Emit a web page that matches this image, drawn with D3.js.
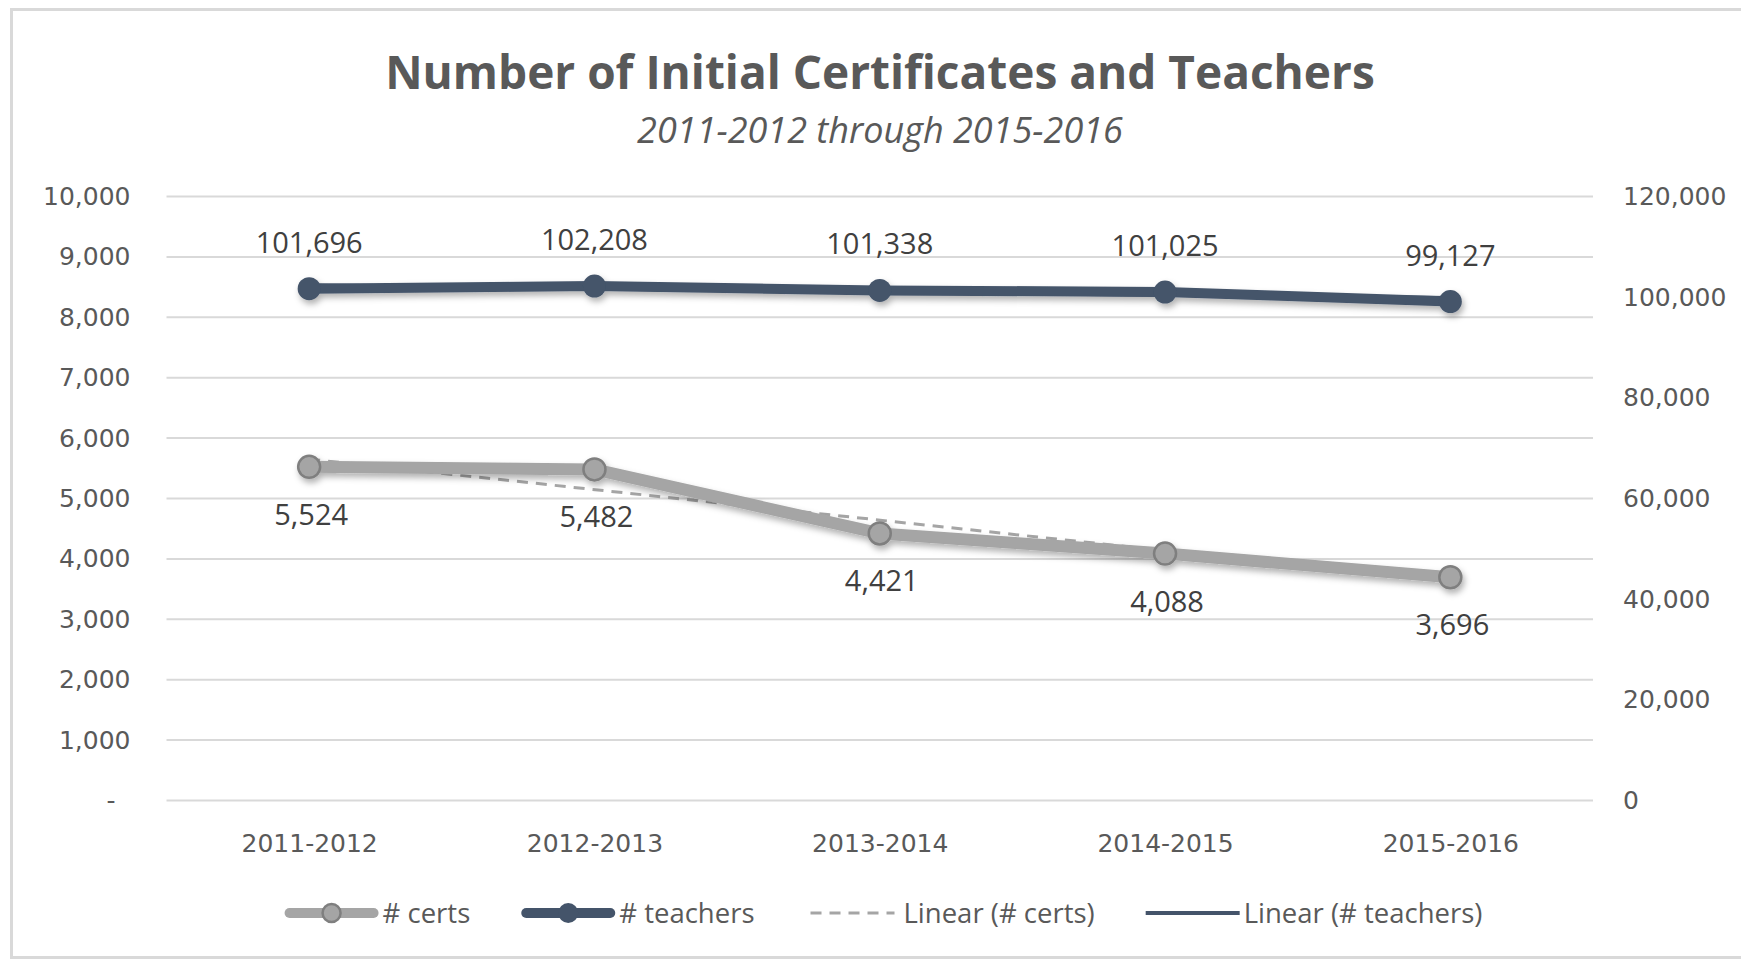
<!DOCTYPE html>
<html>
<head>
<meta charset="utf-8">
<script src="https://cdn.jsdelivr.net/npm/d3@7"></script>
<style>
  body { margin: 0; background: #fff; }
  svg { display: block; }
</style>
</head>
<body>
<div class="g-chart"></div>
<script>
// data
var years = ["2011-2012", "2012-2013", "2013-2014", "2014-2015", "2015-2016"];
var certs = [5524, 5482, 4421, 4088, 3696];
var teachers = [101696, 102208, 101338, 101025, 99127];
// trendline ends (first and last year)
var certsTrend = [5652, 3632];
var teachersTrend = [102343, 99815];
var leftTicks = [0, 1000, 2000, 3000, 4000, 5000, 6000, 7000, 8000, 9000, 10000];
var rightTicks = [0, 20000, 40000, 60000, 80000, 100000, 120000];
var legendNames = ["# certs", "# teachers", "Linear (# certs)", "Linear (# teachers)"];

var width = 1741, height = 959;
var margin = {top: 196.5, right: 148, bottom: 158.5, left: 166.5};
var grey = "#a5a5a5", navy = "#44546a", textCol = "#595959";

var svg = d3.select(".g-chart").append("svg")
    .attr("width", width)
    .attr("height", height);

var defs = svg.append("defs");
var f = defs.append("filter").attr("id", "shadow")
    .attr("x", "-10%").attr("y", "-50%").attr("width", "120%").attr("height", "200%");
f.append("feDropShadow")
    .attr("dx", 2).attr("dy", 4).attr("stdDeviation", 3)
    .attr("flood-color", "#000").attr("flood-opacity", 0.3);

// outer chart border
svg.append("rect")
    .attr("x", 11.5).attr("y", 9.5)
    .attr("width", width).attr("height", 948)
    .attr("fill", "#fff")
    .attr("stroke", "#d9d9d9").attr("stroke-width", 3);

svg.append("text")
    .attr("x", 880).attr("y", 89)
    .attr("text-anchor", "middle")
    .style("font-family", "'Open Sans', sans-serif")
    .style("font-weight", "bold")
    .style("font-size", "46px")
    .style("fill", textCol)
    .text("Number of Initial Certificates and Teachers");

svg.append("text")
    .attr("x", 880).attr("y", 143)
    .attr("text-anchor", "middle")
    .style("font-family", "'Open Sans', sans-serif")
    .style("font-style", "italic")
    .style("font-size", "36px")
    .style("fill", textCol)
    .text("2011-2012 through 2015-2016");

var plotB = height - margin.bottom;

var x = d3.scalePoint().domain(years).range([margin.left, width - margin.right]).padding(0.5);
var yL = d3.scaleLinear().domain([0, 10000]).range([plotB, margin.top]);
var yR = d3.scaleLinear().domain([0, 120000]).range([plotB, margin.top]);

// gridlines
svg.append("g").selectAll("line")
    .data(leftTicks)
    .enter().append("line")
    .attr("x1", margin.left).attr("x2", width - margin.right)
    .attr("y1", d => yL(d)).attr("y2", d => yL(d))
    .attr("stroke", "#d9d9d9").attr("stroke-width", 2);

var fmt = d3.format(",");

// Left axis
var yAxisL = d3.axisLeft(yL).tickValues(leftTicks).tickSize(0).tickPadding(36)
    .tickFormat(d => d === 0 ? "-" : fmt(d));
var gl = svg.append("g").attr("transform", `translate(${margin.left},0)`).call(yAxisL);

// Right axis
var yAxisR = d3.axisRight(yR).tickValues(rightTicks).tickSize(0).tickPadding(30)
    .tickFormat(fmt);
var gr = svg.append("g").attr("transform", `translate(${width - margin.right},0)`).call(yAxisR);

// X axis
var xAxis = d3.axisBottom(x).tickSize(0).tickPadding(30);
var gx = svg.append("g").attr("transform", `translate(0,${plotB})`).call(xAxis);

[gl, gr, gx].forEach(function(g) {
    g.select(".domain").remove();
    g.selectAll("text")
        .style("font-family", "'DejaVu Sans', sans-serif")
        .style("font-size", "25px")
        .style("fill", textCol);
});
gx.selectAll("text").attr("dy", "0.71em").attr("y", 34);
// accounting style dash sits left of the column edge
gl.selectAll(".tick text").filter(d => d === 0).attr("x", -51);

var line = d3.line();

// trendlines
var first = years[0], last = years[years.length - 1];
svg.append("path")
    .attr("d", line([[x(first), yL(certsTrend[0])], [x(last), yL(certsTrend[1])]]))
    .attr("fill", "none").attr("stroke", grey)
    .attr("stroke-width", 3).attr("stroke-dasharray", "11,8");
svg.append("path")
    .attr("d", line([[x(first), yR(teachersTrend[0])], [x(last), yR(teachersTrend[1])]]))
    .attr("fill", "none").attr("stroke", navy)
    .attr("stroke-width", 4);

// certs series
var gc = svg.append("g").attr("filter", "url(#shadow)");
gc.append("path")
    .attr("d", line(years.map((d, i) => [x(d), yL(certs[i])])))
    .attr("fill", "none").attr("stroke", grey)
    .attr("stroke-width", 12).attr("stroke-linejoin", "round");
gc.selectAll("circle")
    .data(certs)
    .enter().append("circle")
    .attr("cx", (d, i) => x(years[i]))
    .attr("cy", d => yL(d))
    .attr("r", 11)
    .attr("fill", grey).attr("stroke", "#7f7f7f").attr("stroke-width", 2.5);

// teachers series
var gt = svg.append("g").attr("filter", "url(#shadow)");
gt.append("path")
    .attr("d", line(years.map((d, i) => [x(d), yR(teachers[i])])))
    .attr("fill", "none").attr("stroke", navy)
    .attr("stroke-width", 10).attr("stroke-linejoin", "round");
gt.selectAll("circle")
    .data(teachers)
    .enter().append("circle")
    .attr("cx", (d, i) => x(years[i]))
    .attr("cy", d => yR(d))
    .attr("r", 11.5)
    .attr("fill", navy);

// data labels
var labelStyle = function(sel) {
    sel.attr("text-anchor", "middle")
        .style("font-family", "'Open Sans', sans-serif")
        .style("font-size", "29px")
        .style("fill", "#404040");
};
svg.append("g").selectAll("text")
    .data(teachers)
    .enter().append("text")
    .attr("x", (d, i) => x(years[i]))
    .attr("y", d => yR(d) - 36)
    .call(labelStyle)
    .text(d => fmt(d));
svg.append("g").selectAll("text")
    .data(certs)
    .enter().append("text")
    .attr("x", (d, i) => x(years[i]) + 2)
    .attr("y", d => yL(d) + 58)
    .call(labelStyle)
    .text(d => fmt(d));

// legend
var legend = svg.append("g");
var symW = 84, gapText = 9, gapItem = 56, legY = 913;
var cursor = 0;
legendNames.forEach(function(name, i) {
    var item = legend.append("g").attr("transform", `translate(${cursor},0)`);
    if (i === 0) {
        item.append("line").attr("x1", 0).attr("x2", symW).attr("y1", legY).attr("y2", legY)
            .attr("stroke", grey).attr("stroke-width", 10).attr("stroke-linecap", "round");
        item.append("circle").attr("cx", symW / 2).attr("cy", legY).attr("r", 9)
            .attr("fill", grey).attr("stroke", "#7f7f7f").attr("stroke-width", 2.5);
    } else if (i === 1) {
        item.append("line").attr("x1", 0).attr("x2", symW).attr("y1", legY).attr("y2", legY)
            .attr("stroke", navy).attr("stroke-width", 10).attr("stroke-linecap", "round");
        item.append("circle").attr("cx", symW / 2).attr("cy", legY).attr("r", 10)
            .attr("fill", navy);
    } else if (i === 2) {
        item.append("line").attr("x1", 0).attr("x2", symW).attr("y1", legY).attr("y2", legY)
            .attr("stroke", grey).attr("stroke-width", 3).attr("stroke-dasharray", "11,8");
    } else {
        item.append("line").attr("x1", -5).attr("x2", symW + 5).attr("y1", legY).attr("y2", legY)
            .attr("stroke", navy).attr("stroke-width", 4);
    }
    var t = item.append("text")
        .attr("x", symW + gapText).attr("y", legY).attr("dy", "0.35em")
        .style("font-family", "'Open Sans', sans-serif")
        .style("font-size", "27.5px")
        .style("fill", textCol)
        .text(name);
    cursor += symW + gapText + t.node().getComputedTextLength() + gapItem;
});
var legW = cursor - gapItem;
legend.attr("transform", `translate(${886 - legW / 2},0)`);
</script>
</body>
</html>
